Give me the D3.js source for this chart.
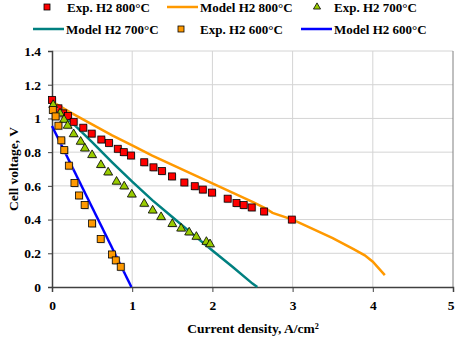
<!DOCTYPE html>
<html>
<head>
<meta charset="utf-8">
<script src="https://cdn.jsdelivr.net/npm/d3@7"></script>
<style>
  body { margin: 0; background: #fff; }
</style>
</head>
<body>
<svg id="chart" width="455" height="343"></svg>
<script>
// Exp. H2 800°C
var exp800 = [
  [0.0, 1.11], [0.08, 1.06], [0.14, 1.03], [0.2, 1.015], [0.27, 0.98], [0.39, 0.945],
  [0.495, 0.91], [0.615, 0.875], [0.71, 0.855], [0.82, 0.82], [0.895, 0.80], [0.985, 0.78],
  [1.15, 0.74], [1.265, 0.71], [1.37, 0.688], [1.495, 0.656], [1.65, 0.62], [1.78, 0.598],
  [1.88, 0.578], [1.995, 0.56], [2.19, 0.524], [2.30, 0.498], [2.39, 0.486], [2.49, 0.472],
  [2.645, 0.448], [2.99, 0.40]
];
// Exp. H2 700°C
var exp700 = [
  [0.015, 1.08], [0.1, 1.03], [0.15, 0.992], [0.195, 0.957], [0.27, 0.907], [0.357, 0.862],
  [0.41, 0.822], [0.50, 0.783], [0.61, 0.724], [0.70, 0.68], [0.805, 0.625], [0.90, 0.597],
  [0.995, 0.549], [1.15, 0.494], [1.255, 0.454], [1.36, 0.415], [1.50, 0.374], [1.61, 0.347],
  [1.71, 0.324], [1.80, 0.298], [1.925, 0.268], [1.97, 0.254]
];
// Exp. H2 600°C
var exp600 = [
  [0.01, 1.05], [0.045, 1.012], [0.08, 0.957], [0.116, 0.87], [0.153, 0.812], [0.21, 0.72],
  [0.28, 0.617], [0.336, 0.543], [0.407, 0.486], [0.50, 0.377], [0.607, 0.285], [0.748, 0.193],
  [0.795, 0.158], [0.857, 0.12]
];
// models
var model800 = [
  [0, 1.10], [0.25, 1.03], [0.5, 0.965], [0.75, 0.90], [1.0, 0.84], [1.25, 0.78], [1.5, 0.725],
  [1.75, 0.67], [2.0, 0.615], [2.25, 0.56], [2.5, 0.505], [2.65, 0.47], [2.75, 0.44], [3.0, 0.40],
  [3.25, 0.345], [3.5, 0.29], [3.76, 0.225], [3.9, 0.188], [4.0, 0.15], [4.15, 0.07]
];
var model700 = [
  [0, 1.09], [0.1, 1.04], [0.25, 0.975], [0.5, 0.86], [0.75, 0.74], [1.0, 0.625], [1.25, 0.515],
  [1.5, 0.415], [1.75, 0.315], [2.0, 0.217], [2.25, 0.12], [2.5, 0.02], [2.56, 0]
];
var model600 = [[0, 0.955], [0.99, 0]];

var xTicks = [0, 1, 2, 3, 4, 5];
var yTicks = [0, 0.2, 0.4, 0.6, 0.8, 1, 1.2, 1.4];

var FONT = "'Liberation Serif', 'Times New Roman', Times, serif";

var margin = {top: 51, right: 2, bottom: 56, left: 52};
var width = 455 - margin.left - margin.right;
var height = 343 - margin.top - margin.bottom;

var svg = d3.select("#chart");
var g = svg.append("g").attr("transform", "translate(" + margin.left + "," + margin.top + ")");

var x = d3.scaleLinear().domain([0, 5]).range([0, width]);
var y = d3.scaleLinear().domain([0, 1.4]).range([height, 0]);

// grid
g.selectAll(".hgrid").data(yTicks.slice(1)).enter().append("line")
  .attr("x1", 0).attr("x2", width)
  .attr("y1", function(d) { return y(d); }).attr("y2", function(d) { return y(d); })
  .style("stroke", "#d4d4d4").style("stroke-width", 1);
g.selectAll(".vgrid").data(xTicks.slice(1, 5)).enter().append("line")
  .attr("y1", 0).attr("y2", height)
  .attr("x1", function(d) { return x(d); }).attr("x2", function(d) { return x(d); })
  .style("stroke", "#d4d4d4").style("stroke-width", 1);
g.append("line").attr("x1", width).attr("x2", width).attr("y1", 0).attr("y2", height)
  .style("stroke", "#808080").style("stroke-width", 1);

// axes
var xAxis = g.append("g").attr("transform", "translate(0," + height + ")")
  .call(d3.axisBottom(x).tickValues(xTicks).tickSize(5).tickPadding(8).tickFormat(d3.format("d")));
var yAxis = g.append("g")
  .call(d3.axisLeft(y).tickValues(yTicks).tickSize(4).tickPadding(7).tickFormat(function(d) { return String(+d.toFixed(1)); }));
[xAxis, yAxis].forEach(function(a) {
  a.attr("font-family", FONT).attr("font-size", 13.5);
  a.select(".domain").style("stroke", "#404040").style("stroke-width", 1.5);
  a.selectAll(".tick line").style("stroke", "#404040");
  a.selectAll("text").attr("font-weight", "bold").attr("fill", "#000");
});
// last x label sits at the right edge; keep it inside the page
xAxis.selectAll(".tick text").filter(function(d) { return d === 5; }).attr("text-anchor", "end").attr("dx", 1);

svg.append("text").attr("x", 253).attr("y", 333).attr("text-anchor", "middle")
  .attr("font-family", FONT).attr("font-weight", "bold").attr("font-size", 13.5)
  .text("Current density, A/cm²");
svg.append("text").attr("transform", "translate(18,169) rotate(-90)").attr("text-anchor", "middle")
  .attr("font-family", FONT).attr("font-weight", "bold").attr("font-size", 13.5)
  .text("Cell voltage, V");

// model lines
var line = d3.line().x(function(d) { return x(d[0]); }).y(function(d) { return y(d[1]); });
var plot = g.append("g");
plot.append("path").datum(model800).attr("d", line).style("fill", "none").style("stroke", "#ff9900").style("stroke-width", 2.5);
plot.append("path").datum(model700).attr("d", line).style("fill", "none").style("stroke", "#008080").style("stroke-width", 2.5);
plot.append("path").datum(model600).attr("d", line).style("fill", "none").style("stroke", "#0000ff").style("stroke-width", 2.5);

// markers
function squares(data, color) {
  var s = 7;
  plot.selectAll(null).data(data).enter().append("rect")
    .attr("x", function(d) { return x(d[0]) - s / 2 + 1; }).attr("y", function(d) { return y(d[1]) - s / 2 + 1; })
    .attr("width", s).attr("height", s).style("fill", "#aaa").style("opacity", 0.6);
  plot.selectAll(null).data(data).enter().append("rect")
    .attr("x", function(d) { return x(d[0]) - s / 2; }).attr("y", function(d) { return y(d[1]) - s / 2; })
    .attr("width", s).attr("height", s).style("fill", color).style("stroke", "#000").style("stroke-width", 0.8);
}
var tri = d3.symbol().type(d3.symbolTriangle).size(34);
function triangles(data) {
  plot.selectAll(null).data(data).enter().append("path")
    .attr("d", tri).attr("transform", function(d) { return "translate(" + (x(d[0]) + 1) + "," + (y(d[1]) + 1) + ")"; })
    .style("fill", "#aaa").style("opacity", 0.6);
  plot.selectAll(null).data(data).enter().append("path")
    .attr("d", tri).attr("transform", function(d) { return "translate(" + x(d[0]) + "," + y(d[1]) + ")"; })
    .style("fill", "#99cc00").style("stroke", "#000").style("stroke-width", 0.8);
}
squares(exp800, "#ff0000");
triangles(exp700);
squares(exp600, "#ff9900");

// legend
var legendItems = [
  {name: "Exp. H2 800°C", type: "square", color: "#ff0000", x: 47, y: 7, tx: 67},
  {name: "Model H2 800°C", type: "line", color: "#ff9900", x: 167, y: 7, tx: 200},
  {name: "Exp. H2 700°C", type: "tri", color: "#99cc00", x: 317, y: 7, tx: 334},
  {name: "Model H2 700°C", type: "line", color: "#008080", x: 33, y: 29, tx: 66},
  {name: "Exp. H2 600°C", type: "square", color: "#ff9900", x: 181, y: 29, tx: 200},
  {name: "Model H2 600°C", type: "line", color: "#0000ff", x: 301, y: 29, tx: 334}
];
var legend = svg.selectAll(".legend").data(legendItems).enter().append("g").attr("class", "legend");
legend.each(function(d) {
  var el = d3.select(this);
  if (d.type === "square") {
    el.append("rect").attr("x", d.x - 3).attr("y", d.y - 3).attr("width", 6).attr("height", 6)
      .style("fill", d.color).style("stroke", "#000").style("stroke-width", 0.8);
  } else if (d.type === "tri") {
    el.append("path").attr("d", d3.symbol().type(d3.symbolTriangle).size(22))
      .attr("transform", "translate(" + d.x + "," + d.y + ")")
      .style("fill", d.color).style("stroke", "#000").style("stroke-width", 0.8);
  } else {
    el.append("line").attr("x1", d.x).attr("x2", d.x + 31).attr("y1", d.y).attr("y2", d.y)
      .style("stroke", d.color).style("stroke-width", 2.5);
  }
  el.append("text").attr("x", d.tx).attr("y", d.y + 4.5)
    .attr("font-family", FONT).attr("font-weight", "bold").attr("font-size", 13)
    .text(d.name);
});
</script>
</body>
</html>
